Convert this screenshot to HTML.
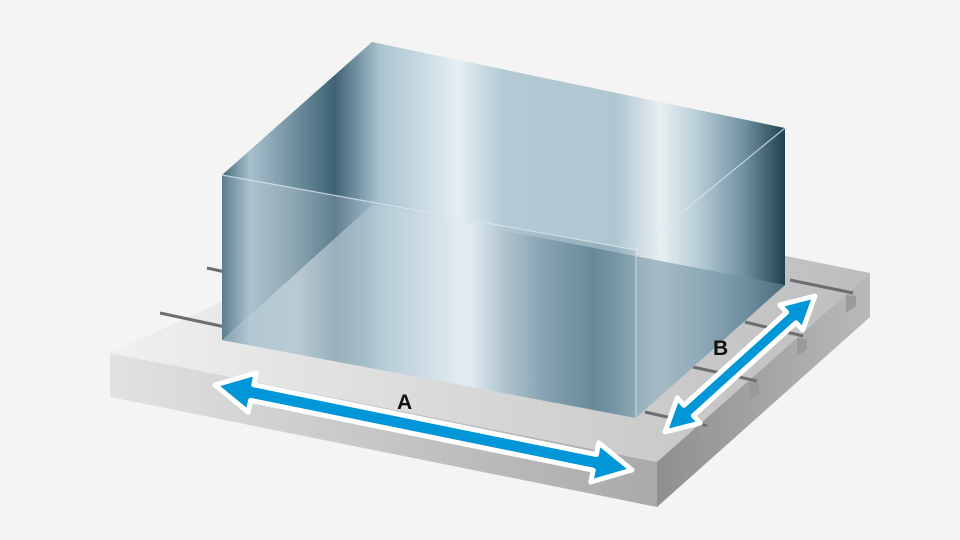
<!DOCTYPE html>
<html><head><meta charset="utf-8"><style>html,body{margin:0;padding:0;background:#f4f4f4}svg{display:block}</style></head>
<body>
<svg width="960" height="540" viewBox="0 0 960 540" xmlns="http://www.w3.org/2000/svg">
<defs>
<linearGradient id="front" x1="110" y1="0" x2="657" y2="0" gradientUnits="userSpaceOnUse">
<stop offset="0" stop-color="#e2e2e2"/><stop offset="1" stop-color="#a9a9aa"/></linearGradient>
<linearGradient id="side" x1="657" y1="0" x2="870" y2="0" gradientUnits="userSpaceOnUse">
<stop offset="0" stop-color="#8e8f91"/><stop offset="1" stop-color="#b8b9ba"/></linearGradient>
<linearGradient id="top" x1="110" y1="0" x2="870" y2="0" gradientUnits="userSpaceOnUse">
<stop offset="0" stop-color="#f0f0f0"/><stop offset="0.5" stop-color="#d6d6d6"/><stop offset="1" stop-color="#bdbdbd"/></linearGradient>
<linearGradient id="glass" x1="222" y1="0" x2="785" y2="0" gradientUnits="userSpaceOnUse">
<stop offset="0" stop-color="#46697a"/><stop offset="0.05" stop-color="#a7c1cd"/><stop offset="0.2" stop-color="#3e6274"/>
<stop offset="0.28" stop-color="#a9c3cf"/><stop offset="0.42" stop-color="#e6eff3"/><stop offset="0.5" stop-color="#b3cad5"/>
<stop offset="0.7" stop-color="#b0c7d2"/><stop offset="0.78" stop-color="#e8eff2"/><stop offset="0.85" stop-color="#b3cad5"/>
<stop offset="0.93" stop-color="#6d8e9e"/><stop offset="1" stop-color="#20404f"/></linearGradient>
<linearGradient id="gfront" x1="222" y1="0" x2="636" y2="0" gradientUnits="userSpaceOnUse">
<stop offset="0" stop-color="#9fb9c6"/><stop offset="0.18" stop-color="#e0eaef"/><stop offset="0.35" stop-color="#b2c9d4"/>
<stop offset="0.6" stop-color="#e4edf1"/><stop offset="0.78" stop-color="#6e8fa0"/><stop offset="0.9" stop-color="#45697b"/><stop offset="1" stop-color="#6f8f9f"/></linearGradient>
</defs>
<polygon points="110,353 464,191 870,273 657,462" fill="url(#top)"/>
<polygon points="110,353 657,462 657,507 110,397" fill="url(#front)"/>
<polygon points="657,462 870,273 870,317 657,507" fill="url(#side)"/>
<g stroke="#6c6d70" stroke-width="3">
<line x1="160" y1="313" x2="230" y2="328"/><line x1="207" y1="268" x2="230" y2="273"/>
<line x1="790" y1="280" x2="853" y2="293"/><line x1="745" y1="322" x2="803" y2="336"/>
<line x1="693" y1="367" x2="757" y2="381"/><line x1="645" y1="412" x2="707" y2="426"/>
</g>
<g fill="#999a9c"><polygon points="846,295 856,296 856,306 846,313"/><polygon points="797,338 807,339 807,349 797,356"/><polygon points="749,382 759,383 759,393 749,400"/><polygon points="700,426 710,427 710,437 700,444"/></g>
<polygon points="222,175 372,42 785,128 785,285 636,418 222,340" fill="url(#glass)"/>
<polygon points="222,340 372,205 785,285 636,418" fill="url(#gfront)" opacity="0.55"/>
<polygon points="222,175 636,250 636,418 222,340" fill="url(#gfront)" opacity="0.25"/>
<polyline points="222,175 636,250 785,128" fill="none" stroke="#d9e6ec" stroke-width="1.2" opacity="0.8"/>
<line x1="636" y1="250" x2="636" y2="418" stroke="#cfdde4" stroke-width="1"/>
<g stroke="#fff" stroke-width="5" stroke-linejoin="round" fill="#0096d8">
<polygon points="215,385 256.2,373 253.8,384.8 596.4,454.6 598.8,442.8 632,470 590.8,482 593.2,470.2 250.6,400.4 248.2,412.2"/>
<polygon points="665,432 677.3,397.9 684,405.3 786.6,312.3 779.9,304.9 815,296 802.7,330.1 796,322.7 693.4,415.7 700.1,423.1"/>
</g>
<text x="397" y="409" font-family="Liberation Sans, sans-serif" font-weight="bold" font-size="21" fill="#111">A</text>
<text x="713" y="355" font-family="Liberation Sans, sans-serif" font-weight="bold" font-size="21" fill="#111">B</text>
</svg>
</body></html>
